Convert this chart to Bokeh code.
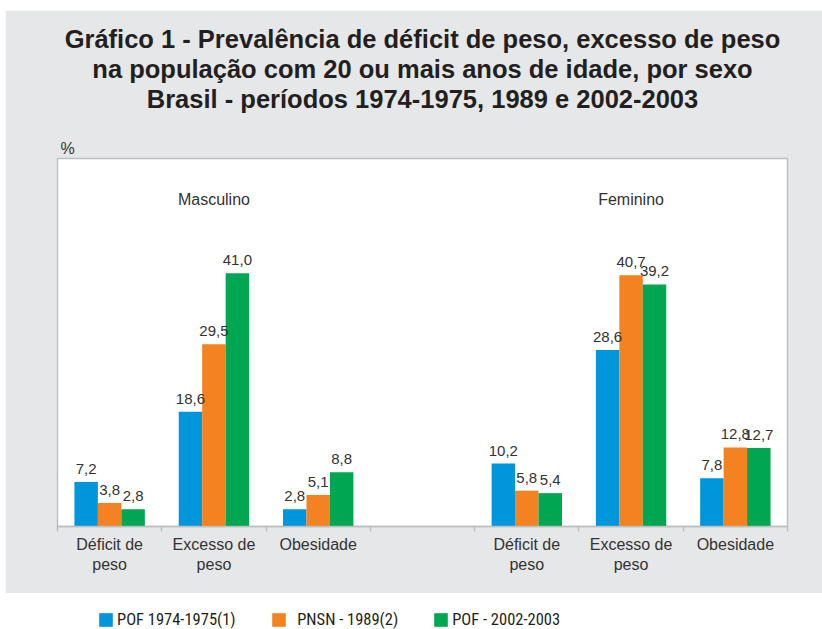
from bokeh.plotting import figure
from bokeh.models import (ColumnDataSource, LabelSet, Label, FixedTicker, Range1d,
                          Legend, LegendItem, Title, Spacer)
from bokeh.layouts import column, row
from bokeh.core.properties import value
from bokeh.embed import file_html
from bokeh.resources import INLINE

# ---- data ----
indicators = ["Déficit de\npeso", "Excesso de\npeso", "Obesidade"]
sexes = ["Masculino", "Feminino"]
series_names = ["POF 1974-1975(1)", "  PNSN - 1989(2)", "POF - 2002-2003"]
masc_pof1974 = [7.2, 18.6, 2.8]
masc_pnsn1989 = [3.8, 29.5, 5.1]
masc_pof2002 = [2.8, 41.0, 8.8]
fem_pof1974 = [10.2, 28.6, 7.8]
fem_pnsn1989 = [5.8, 40.7, 12.8]
fem_pof2002 = [5.4, 39.2, 12.7]
title_lines = ["Gráfico 1 - Prevalência de déficit de peso, excesso de peso",
               "na população com 20 ou mais anos de idade, por sexo",
               "Brasil - períodos 1974-1975, 1989 e 2002-2003"]

colors = ["#0096DB", "#F58220", "#00A651"]
TXT = "#333333"
GRAY_BG = "#E6E7E8"
LINE = "#BCBEC0"
SANS = "'Liberation Sans'"
COND = "'Roboto Condensed'"

n_ind = len(indicators)
slot_start = {"Masculino": 0, "Feminino": n_ind + 1}
n_slots = 2 * n_ind + 1

series = [
    (masc_pof1974, fem_pof1974),
    (masc_pnsn1989, fem_pnsn1989),
    (masc_pof2002, fem_pof2002),
]
bar_w = 0.225
offsets = [-bar_w, 0.0, bar_w]

W, H_MAIN = 817, 583

p = figure(width=W, height=H_MAIN, output_backend="svg", toolbar_location=None,
           x_range=Range1d(0, n_slots), y_range=Range1d(0, 59.6),
           y_axis_type=None, min_border_left=52, min_border_right=35,
           min_border_top=148, min_border_bottom=67)
p.border_fill_color = GRAY_BG
p.background_fill_color = "white"
p.outline_line_color = LINE
p.outline_line_width = 1.5
p.xgrid.visible = False

for si, (mvals, fvals) in enumerate(series):
    xs, tops, labels = [], [], []
    for sex, vals in zip(sexes, (mvals, fvals)):
        for i, v in enumerate(vals):
            xs.append(slot_start[sex] + i + 0.5 + offsets[si])
            tops.append(v)
            labels.append(f"{v:.1f}".replace(".", ","))
    src = ColumnDataSource(dict(x=xs, top=tops, lab=labels))
    p.vbar(x="x", top="top", width=bar_w, source=src, fill_color=colors[si],
           line_color=None)
    p.add_layout(LabelSet(x="x", y="top", text="lab", source=src, y_offset=8,
                          text_align="center", text_baseline="bottom",
                          text_font=value(SANS), text_font_size=value("15px"),
                          text_color=value(TXT)))

centers, overrides = [], {}
for sex in sexes:
    for i, ind in enumerate(indicators):
        c = slot_start[sex] + i + 0.5
        centers.append(c)
        overrides[c] = ind
ax = p.xaxis[0]
ax.ticker = FixedTicker(ticks=centers, minor_ticks=list(range(n_slots + 1)))
ax.major_label_overrides = overrides
ax.major_tick_out = 0
ax.major_tick_in = 0
ax.minor_tick_out = 5
ax.minor_tick_in = 0
ax.minor_tick_line_color = LINE
ax.minor_tick_line_width = 1.5
ax.axis_line_color = LINE
ax.axis_line_width = 1.5
ax.major_label_standoff = 4
ax.major_label_text_font = SANS
ax.major_label_text_font_size = "16px"
ax.major_label_text_color = TXT

for sex in sexes:
    p.add_layout(Label(x=slot_start[sex] + 1.5, y=53, text=sex, text_align="center",
                       text_baseline="middle", text_font=SANS,
                       text_font_size="16px", text_color=TXT))

# stacked above the frame: "%", a blank spacer line, then title lines 3, 2, 1
p.add_layout(Title(text="%", align="left", offset=3, standoff=4, text_font=SANS,
                   text_font_size="16px", text_font_style="normal",
                   text_color=TXT), "above")
p.add_layout(Title(text=" ", align="center", standoff=0, text_font=SANS,
                   text_font_size="19px"), "above")
for k in (2, 1, 0):
    p.add_layout(Title(text=title_lines[k], align="center", standoff=0,
                       text_font=SANS, text_font_style="bold",
                       text_font_size="25.5px", text_color="#231F20"), "above")

# legend strip (white, below the grey panel)
pl = figure(width=822, height=36, output_backend="svg", toolbar_location=None,
            x_axis_type=None, y_axis_type=None, x_range=(0, 1), y_range=(0, 1),
            min_border=0)
pl.outline_line_color = None
pl.border_fill_color = "white"
pl.background_fill_color = "white"
items = []
for name, c in zip(series_names, colors):
    # proxy renderer placed outside the visible range; only its legend swatch shows
    rr = pl.vbar(x=[5], top=[1], width=0.1, fill_color=c, line_color=None)
    items.append(LegendItem(label=name, renderers=[rr]))
leg = Legend(items=items, orientation="horizontal", location=(97, 0),
             glyph_width=17, glyph_height=17, label_standoff=3, spacing=34,
             padding=0, margin=0, border_line_color=None, background_fill_alpha=0,
             label_text_font=COND, label_text_font_size="16.5px",
             label_text_color="#231F20")
pl.add_layout(leg)

layout = column(Spacer(height=10), row(Spacer(width=5), p), pl)
open("out.html", "w").write(file_html(layout, INLINE))
